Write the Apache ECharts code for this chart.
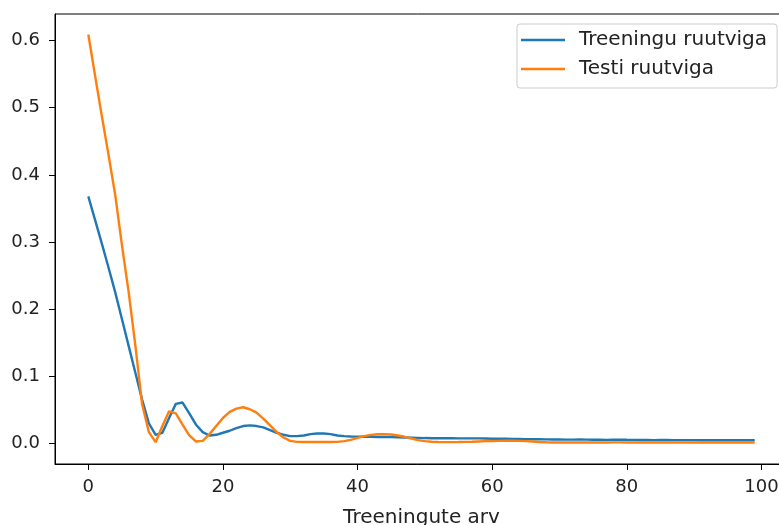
<!DOCTYPE html>
<html>
<head>
<meta charset="utf-8">
<title>Ruutviga</title>
<script src="https://cdn.jsdelivr.net/npm/echarts@6.0.0/dist/echarts.min.js"></script>
<style>
  html, body { margin: 0; padding: 0; background: #fff; }
  #chart { width: 779px; height: 525px; }
</style>
</head>
<body>
<div id="chart"></div>
<script>
// treeningu ruutviga (epohh = indeks)
var trainLoss = [
  0.368, 0.333, 0.298, 0.262, 0.225, 0.185, 0.145, 0.105, 0.065, 0.030,
  0.013, 0.016, 0.038, 0.059, 0.061, 0.045, 0.028, 0.017, 0.012, 0.013,
  0.016, 0.019, 0.023, 0.026, 0.027, 0.026, 0.024, 0.020, 0.016, 0.013,
  0.011, 0.011, 0.012, 0.014, 0.015, 0.015, 0.014, 0.012, 0.011, 0.0105,
  0.0103, 0.0101, 0.0100, 0.0098, 0.0097, 0.0096, 0.0093, 0.0090, 0.0087, 0.0084,
  0.0081, 0.0079, 0.0079, 0.0080, 0.0079, 0.0077, 0.0076, 0.0077, 0.0076, 0.0074,
  0.0072, 0.0071, 0.0070, 0.0069, 0.0068, 0.0066, 0.0064, 0.0063, 0.0061, 0.0060,
  0.0059, 0.0058, 0.0058, 0.0059, 0.0058, 0.0056, 0.0055, 0.0054, 0.0056, 0.0057,
  0.0055, 0.0054, 0.0053, 0.0052, 0.0051, 0.0052, 0.0052, 0.0051, 0.0050, 0.0050,
  0.0050, 0.0049, 0.0049, 0.0050, 0.0049, 0.0049, 0.0049, 0.0049, 0.0049, 0.0049
];
// testi ruutviga
var testLoss = [
  0.609, 0.548, 0.488, 0.430, 0.370, 0.295, 0.225, 0.145, 0.058, 0.017,
  0.002, 0.026, 0.048, 0.045, 0.028, 0.012, 0.003, 0.004, 0.014, 0.026,
  0.038, 0.047, 0.052, 0.054, 0.051, 0.046, 0.037, 0.027, 0.017, 0.009,
  0.004, 0.0025, 0.0022, 0.0022, 0.0023, 0.0022, 0.0022, 0.0025, 0.0035, 0.0055,
  0.0085, 0.011, 0.0128, 0.0138, 0.014, 0.0135, 0.012, 0.010, 0.0075, 0.005,
  0.0035, 0.0026, 0.0022, 0.0021, 0.0021, 0.0022, 0.0024, 0.0027, 0.0031, 0.0035,
  0.0038, 0.0040, 0.0041, 0.0041, 0.0039, 0.0035, 0.0029, 0.0023, 0.0018, 0.0016,
  0.0015, 0.0015, 0.0016, 0.0016, 0.0015, 0.0015, 0.0016, 0.0016, 0.0017, 0.0017,
  0.0016, 0.0016, 0.0016, 0.0015, 0.0015, 0.0015, 0.0016, 0.0016, 0.0016, 0.0015,
  0.0015, 0.0015, 0.0015, 0.0014, 0.0014, 0.0014, 0.0014, 0.0014, 0.0014, 0.0014
];
var xTicks = [0, 20, 40, 60, 80, 100];
var yTicks = [0.0, 0.1, 0.2, 0.3, 0.4, 0.5, 0.6];
var seriesNames = ['Treeningu ruutviga', 'Testi ruutviga'];

var font = 'DejaVu Sans';
var chart = echarts.init(document.getElementById('chart'));

function toPairs(arr) {
  return arr.map(function (v, i) { return [i, v]; });
}

var option = {
  animation: false,
  backgroundColor: '#fff',
  color: ['#1f77b4', '#ff7f0e'],
  grid: {
    left: 55, top: 14, width: 733, height: 450,
    outerBoundsMode: 'none',
    containLabel: false,
    show: true, borderColor: '#000', borderWidth: 1
  },
  legend: {
    data: seriesNames,
    orient: 'vertical',
    left: 517, top: 24,
    icon: 'rect',
    itemWidth: 44, itemHeight: 2.5,
    itemGap: 9,
    padding: [6, 10, 9, 4],
    borderColor: '#cccccc', borderWidth: 1, borderRadius: 3,
    backgroundColor: 'rgba(255,255,255,0.8)',
    textStyle: { fontFamily: font, fontSize: 20, color: '#222', padding: [0, 0, 0, 9] }
  },
  xAxis: {
    type: 'value',
    min: -4.95, max: 103.95,
    name: 'Treeningute arv',
    nameLocation: 'middle',
    nameGap: 44,
    nameTextStyle: { fontFamily: font, fontSize: 20, color: '#222' },
    axisLine: { onZero: false, lineStyle: { color: '#000', width: 1 } },
    axisTick: { show: true, length: 6, lineStyle: { color: '#000' }, customValues: xTicks },
    axisLabel: { fontFamily: font, fontSize: 18, color: '#222', margin: 14, customValues: xTicks },
    splitLine: { show: false }
  },
  yAxis: {
    type: 'value',
    min: -0.0305, max: 0.6395,
    axisLine: { show: true, onZero: false, lineStyle: { color: '#000', width: 1 } },
    axisTick: { show: true, length: 6, lineStyle: { color: '#000' }, customValues: yTicks },
    axisLabel: {
      fontFamily: font, fontSize: 18, color: '#222', margin: 15, customValues: yTicks,
      formatter: function (v) { return v.toFixed(1); }
    },
    splitLine: { show: false }
  },
  series: [
    {
      name: seriesNames[0], type: 'line', data: toPairs(trainLoss),
      showSymbol: false, lineStyle: { width: 2.4 }
    },
    {
      name: seriesNames[1], type: 'line', data: toPairs(testLoss),
      showSymbol: false, lineStyle: { width: 2.4 }
    }
  ]
};

chart.setOption(option);
</script>
</body>
</html>
